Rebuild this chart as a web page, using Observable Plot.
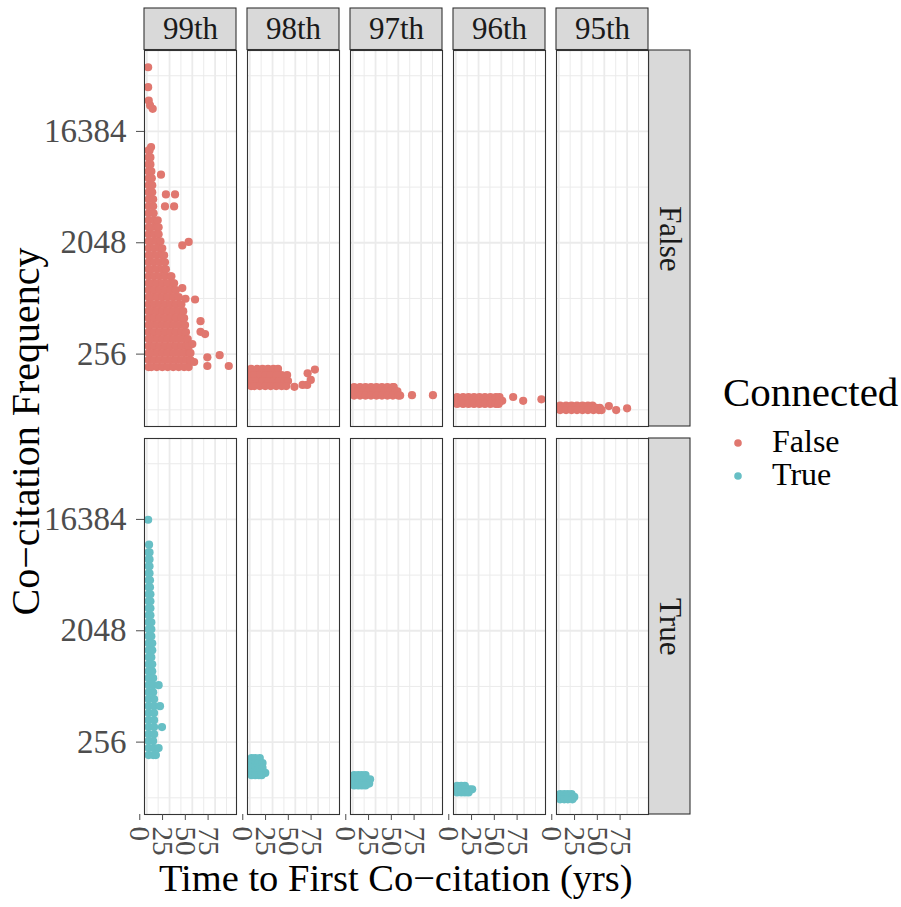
<!DOCTYPE html>
<html><head><meta charset="utf-8">
<script src="https://cdn.jsdelivr.net/npm/d3@7"></script>
<script src="https://cdn.jsdelivr.net/npm/@observablehq/plot@0.6"></script>
<style>
body{margin:0;background:#fff;}
#wrap{position:relative;width:901px;height:907px;}
#overlay{position:absolute;left:0;top:0;pointer-events:none;}
</style></head><body><div id="wrap"></div>
<script>
const percentiles = ["99th","98th","97th","96th","95th"];
const connected = ["False","True"];
const xTicks = [0,25,50,75];
const xMinorTicks = [12.5,37.5,62.5,87.5];
const yTicks = [256,2048,16384];
const yMinorTicks = [90.5,724,5793,46341];
const colors = ["#e0776f","#67bfc5"];
const xTitle = "Time to First Co\u2212citation (yrs)";
const yTitle = "Co\u2212citation Frequency";
const legendTitle = "Connected";

// each row: [co-citation frequency, time to first co-citation (yrs), ...]
const false99 = [
  [54300,1.5],[37400,1.5],[29100,2.2],[26600,3.6],[25000,6.5],[12250,4.7],
  [11490,2,3],[10085,2,4],[8853,2,4],[7767,2,5],[6817,2,5.5],[5985,2,6],
  [5250,2,6],[4609,2,7],[4045,2,7],[3549,2,7.5],[3115,2,8,12],[2734,2,5,11,13],
  [2398,2,8,13],[2106,2,5,11,15],[1848,2,8,14,17],[1621,2,5,11,17,19],
  [1423,2,8,14,20],[1249,2,5,11,17,21],[1096,2,8,14,20,26,27],
  [962,2,5,11,17,23,29,30],[845,2,8,14,20,26,32],[741,2,5,11,17,23,29,35],
  [650,2,8,14,20,26,32,38],[571,2,5,11,17,23,29,35,40],[501,2,8,14,20,26,32,38,41],
  [440,2,5,11,17,23,29,35,41,42],[386,2,8,14,20,26,32,38,43],
  [339,2,5,11,17,23,29,35,41,45],[297,2,8,14,20,26,32,38,44,46],
  [261,2,5,11,17,23,29,35,41,47,48],[229,2,8,14,20,26,32,38,44,48],
  [201,2,5,11,17,23,29,35,41,46],
  [7300,15.6],[5050,21],[5050,31],[4040,20],[4040,30],[1950,39],[2080,46],
  [878,39],[720,42.5],[710,53],[474,59],[372,64],[388,59],[309,50],
  [241,66.5],[251,80],[205,66.5],[205,90],[221,52]
];
const false98 = [
  [194,1.5,8,14,20,26,31],[173,1.5,5,11,17,23,29,35,41],[155,1.5,8,14,20,26,32,38,42],
  [141,1.5,5,11,17,23,29,35,40],
  [179,63.5],[192,71.5],[158,67],[144,63],[144,58],[139,49]
];
const false97 = [
  [138,1.5,8,14,20,26,32,38,44,45],[128,1.5,5,11,17,23,29,35,41,47,49],
  [118,1.5,8,14,20,26,32,38,44,50,52],[119,65],[119,88]
];
const false96 = [
  [115,1.5,8,14,20,26,32,38,44,48],[107,1.5,5,11,17,23,29,35,41,47,51],
  [101,1.5,8,14,20,26,32,38,44,47],[115,63],[107,74],[110,94]
];
const false95 = [
  [98,1.5,8,14,20,26,32,37],[94,1.5,5,11,17,23,29,35,41,45],
  [90,1.5,8,14,20,26,32,38,44,47],[97,55],[90,63],[93,75]
];
const true99 = [
  [16280,1.5],[10220,2.5],[8853,2,3],[7767,2,3],[6817,2,3],[5985,2,3],
  [5250,2,3.5],[4609,2,3.5],[4045,2,4],[3549,2,4],[3115,2,4],[2734,2,4],
  [2398,2,5],[2106,2,5],[1848,2,5],[1621,2,6],[1423,2,6],[1249,2,5],
  [1096,2,6],[962,2,6],[845,2,7],[741,2,7,13],[650,2,7],[571,2,8],
  [501,2,8,14.5],[440,2,8],[386,2,8],[339,2,8,16.7],[297,2,8],[261,2,7],
  [229,2,8,13],[201,2,7,10]
];
const true98 = [[190,2,6,11],[173,2,6,10,14],[158,2,6,10,14],[144,2,6,10,17],[138,2,6,10,13]];
const true97 = [[138,1.5,6,10,14],[128,1.5,6,10,15,19],[118,1.5,6,10,15,18],[114,1.5,6,10,14]];
const true96 = [[113,1.5,6,10],[106,1.5,6,10,15,18],[100,1.5,6,10,14]];
const true95 = [[97,1.5,6,10,14],[92,1.5,6,10,15,17],[88,1.5,6,10,15]];

const panels = [
  ["99th","False",false99],["98th","False",false98],["97th","False",false97],
  ["96th","False",false96],["95th","False",false95],
  ["99th","True",true99],["98th","True",true98],["97th","True",true97],
  ["96th","True",true96],["95th","True",true95]
];
const points = [];
for (const [pct, conn, rowsArr] of panels)
  for (const [freq, ...years] of rowsArr)
    for (const t of years) points.push({pct, conn, freq, time: t});

const W = 901, H = 907, mt = 49, mb = 93, ml = 142, mr = 251.5;
const fxPad = 0.1075, fyPad = 0.031, strip = 42;
const bwx = (W - ml - mr) / (percentiles.length - fxPad) * (1 - fxPad);
const bwy = (H - mt - mb) / (connected.length - fyPad) * (1 - fyPad);
const font = '"Liberation Serif", "Times New Roman", serif';

const chart = Plot.plot({
  width: W, height: H,
  marginTop: mt, marginBottom: mb, marginLeft: ml, marginRight: mr,
  style: {fontFamily: font, background: "white", overflow: "visible"},
  facet: {marginTop: 0, marginRight: 0, marginBottom: 0, marginLeft: 0},
  fx: {domain: percentiles, paddingInner: fxPad, paddingOuter: 0, axis: null, label: null},
  fy: {domain: connected, paddingInner: fyPad, paddingOuter: 0, axis: null, label: null},
  x: {domain: [-2.5, 98.5]},
  y: {type: "log", base: 2, domain: [66.26, 74245]},
  color: {domain: connected, range: colors},
  marks: [
    Plot.gridX({ticks: xMinorTicks, stroke: "#ebebeb", strokeOpacity: 1, strokeWidth: 1}),
    Plot.gridY({ticks: yMinorTicks, stroke: "#ebebeb", strokeOpacity: 1, strokeWidth: 1}),
    Plot.gridX({ticks: xTicks, stroke: "#ebebeb", strokeOpacity: 1, strokeWidth: 1.8}),
    Plot.gridY({ticks: yTicks, stroke: "#ebebeb", strokeOpacity: 1, strokeWidth: 1.8}),
    Plot.dot(points, {x: "time", y: "freq", fx: "pct", fy: "conn", fill: "conn", r: 4.1}),
    Plot.frame({stroke: "#333", strokeWidth: 1.1}),
    Plot.rect(percentiles, {fx: d => d, fy: () => "False", insetTop: -strip, insetBottom: bwy,
      fill: "#d9d9d9", stroke: "#333", strokeWidth: 1.1}),
    Plot.text(percentiles, {fx: d => d, fy: () => "False", text: d => d, frameAnchor: "top",
      dy: -strip / 2, lineAnchor: "middle", fontSize: 31, fontFamily: font, fill: "#1a1a1a"}),
    Plot.rect(connected, {fy: d => d, fx: () => "95th", insetLeft: bwx, insetRight: -strip,
      fill: "#d9d9d9", stroke: "#333", strokeWidth: 1.1}),
    Plot.text(connected, {fy: d => d, fx: () => "95th", text: d => d, frameAnchor: "top-right",
      dx: strip / 2, dy: bwy / 2, rotate: 90, textAnchor: "middle", lineAnchor: "middle",
      fontSize: 31, fontFamily: font, fill: "#1a1a1a"}),
    Plot.axisX({ticks: xTicks, tickSize: 6, tickPadding: 6, tickRotate: 90, fontSize: 29,
      fontFamily: font, label: null, color: "#4d4d4d", textAnchor: "start", lineAnchor: "middle", dx: -7, dy: 0}),
    Plot.axisY({ticks: yTicks, tickSize: 8, tickPadding: 10, fontSize: 33, fontFamily: font,
      tickFormat: d => String(d), label: null, color: "#4d4d4d"})
  ]
});
const wrap = document.getElementById("wrap");
wrap.appendChild(chart);

// titles and legend
const ns = "http://www.w3.org/2000/svg";
const ov = document.createElementNS(ns, "svg");
ov.setAttribute("id", "overlay");
ov.setAttribute("width", W); ov.setAttribute("height", H);
ov.setAttribute("font-family", font);
function addText(str, attrs) {
  const t = document.createElementNS(ns, "text");
  for (const k in attrs) t.setAttribute(k, attrs[k]);
  t.textContent = str; ov.appendChild(t); return t;
}
addText(xTitle, {x: ml + (W - ml - mr) / 2, y: 891, "text-anchor": "middle", "font-size": 38.5, fill: "#000"});
addText(yTitle, {transform: `translate(39,${mt + (H - mt - mb) / 2}) rotate(-90)`, "text-anchor": "middle", "font-size": 40, fill: "#000"});
addText(legendTitle, {x: 723, y: 406, "font-size": 41, fill: "#000"});
connected.forEach((c, i) => {
  const cy = 443 + i * 33;
  const dot = document.createElementNS(ns, "circle");
  dot.setAttribute("cx", 738); dot.setAttribute("cy", cy); dot.setAttribute("r", 3.8);
  dot.setAttribute("fill", colors[i]); ov.appendChild(dot);
  addText(c, {x: 772, y: cy + 9, "font-size": 32, fill: "#000"});
});
wrap.appendChild(ov);
</script></body></html>
